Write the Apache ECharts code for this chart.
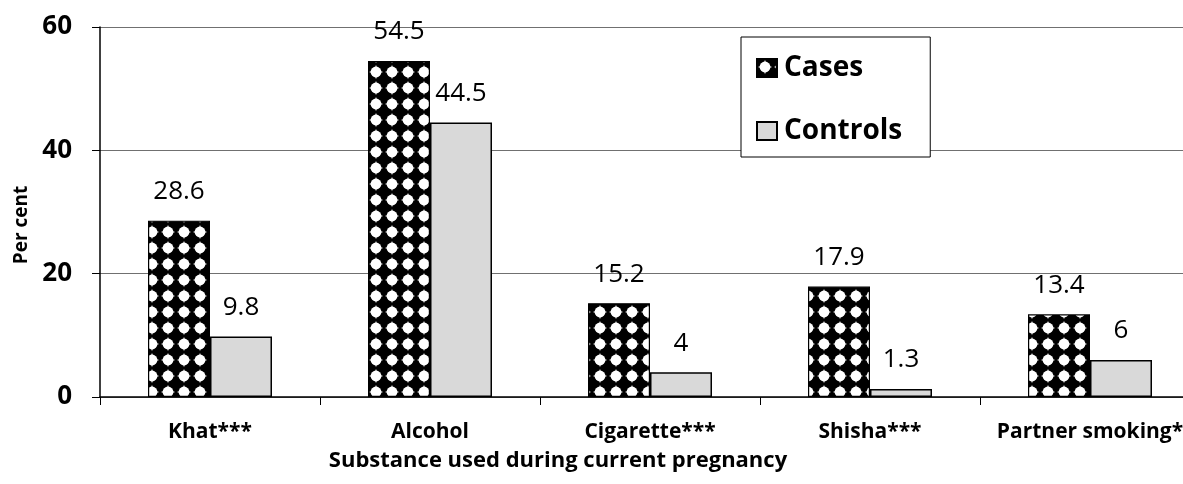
<!DOCTYPE html>
<html>
<head>
<meta charset="utf-8">
<script src="https://cdn.jsdelivr.net/npm/echarts@6/dist/echarts.min.js"></script>
<style>
html,body{margin:0;padding:0;background:#fff;overflow:hidden;width:1183px;height:484px;}
#chart{width:1200px;height:484px;}
</style>
</head>
<body>
<div id="chart"></div>
<script>
const categories = ['Khat***', 'Alcohol', 'Cigarette***', 'Shisha***', 'Partner smoking*'];
const casesValues = [28.6, 54.5, 15.2, 17.9, 13.4];
const controlsValues = [9.8, 44.5, 4, 1.3, 6];
const yTicks = [0, 20, 40, 60];
const seriesNames = ['Cases', 'Controls'];
const xAxisTitle = 'Substance used during current pregnancy';
const yAxisTitle = 'Per cent';

function makePattern() {
  const c = document.createElement('canvas');
  c.width = 16; c.height = 16;
  const g = c.getContext('2d');
  g.fillStyle = '#000';
  g.fillRect(0, 0, 16, 16);
  g.fillStyle = '#fff';
  g.beginPath();
  g.arc(8, 8, 5.4, 0, Math.PI * 2);
  g.fill();
  g.beginPath();
  g.moveTo(8, 0.8); g.lineTo(10.2, 8); g.lineTo(8, 15.2); g.lineTo(5.8, 8); g.closePath();
  g.fill();
  g.beginPath();
  g.moveTo(0.8, 8); g.lineTo(8, 5.8); g.lineTo(15.2, 8); g.lineTo(8, 10.2); g.closePath();
  g.fill();
  return c;
}

const FONT = '"Open Sans", "DejaVu Sans", sans-serif';
const chart = echarts.init(document.getElementById('chart'), null, {renderer: 'canvas'});
const labelStyle = {show: true, position: 'top', distance: 16, color: '#000', fontFamily: FONT, fontSize: 26, fontWeight: 'normal'};

chart.setOption({
  animation: false,
  backgroundColor: '#fff',
  grid: {left: 100, top: 27, width: 1100, height: 370, containLabel: false},
  legend: {
    orient: 'vertical',
    left: 741, top: 37,
    padding: [17, 28, 12, 15],
    itemGap: 35,
    itemWidth: 20, itemHeight: 18,
    icon: 'rect',
    borderColor: '#000', borderWidth: 1,
    backgroundColor: '#fff',
    textStyle: {fontFamily: FONT, fontSize: 28, fontWeight: 'bold', color: '#000', padding: [0, 0, 0, 2]},
    data: seriesNames
  },
  xAxis: {
    type: 'category',
    data: categories,
    axisLine: {lineStyle: {color: '#000', width: 1.5}},
    axisTick: {show: true, length: 8, lineStyle: {color: '#000'}},
    axisLabel: {interval: 0, margin: 25, fontFamily: FONT, fontSize: 21, fontWeight: 'bold', color: '#000'},
    splitLine: {show: false}
  },
  yAxis: {
    type: 'value',
    min: 0, max: 60, interval: 20,
    axisLine: {show: true, lineStyle: {color: '#000', width: 1.5}},
    axisTick: {show: true, length: 8, lineStyle: {color: '#000'}},
    axisLabel: {margin: 28, fontFamily: FONT, fontSize: 26, fontWeight: 'bold', color: '#000',
      formatter: v => yTicks.includes(v) ? String(v) : ''},
    splitLine: {show: true, lineStyle: {color: '#707070', width: 1.2}}
  },
  graphic: [{
    type: 'text', x: 558, y: 461,
    style: {text: xAxisTitle, fill: '#000', font: 'bold 22px "Open Sans", sans-serif', textAlign: 'center', textVerticalAlign: 'middle'}
  }, {
    type: 'text', x: 22, y: 225, rotation: Math.PI / 2,
    style: {text: yAxisTitle, fill: '#000', font: 'bold 19px "Open Sans", sans-serif', textAlign: 'center', textVerticalAlign: 'middle'}
  }],
  series: [
    {
      name: seriesNames[0], type: 'bar', data: casesValues,
      barWidth: 62, barGap: '0%',
      itemStyle: {color: {image: makePattern(), repeat: 'repeat'}, borderColor: '#000', borderWidth: 1.2},
      label: labelStyle
    },
    {
      name: seriesNames[1], type: 'bar', data: controlsValues,
      barWidth: 62, barGap: '0%',
      itemStyle: {color: '#d9d9d9', borderColor: '#000', borderWidth: 1.5},
      label: labelStyle
    }
  ]
});
</script>
</body>
</html>
